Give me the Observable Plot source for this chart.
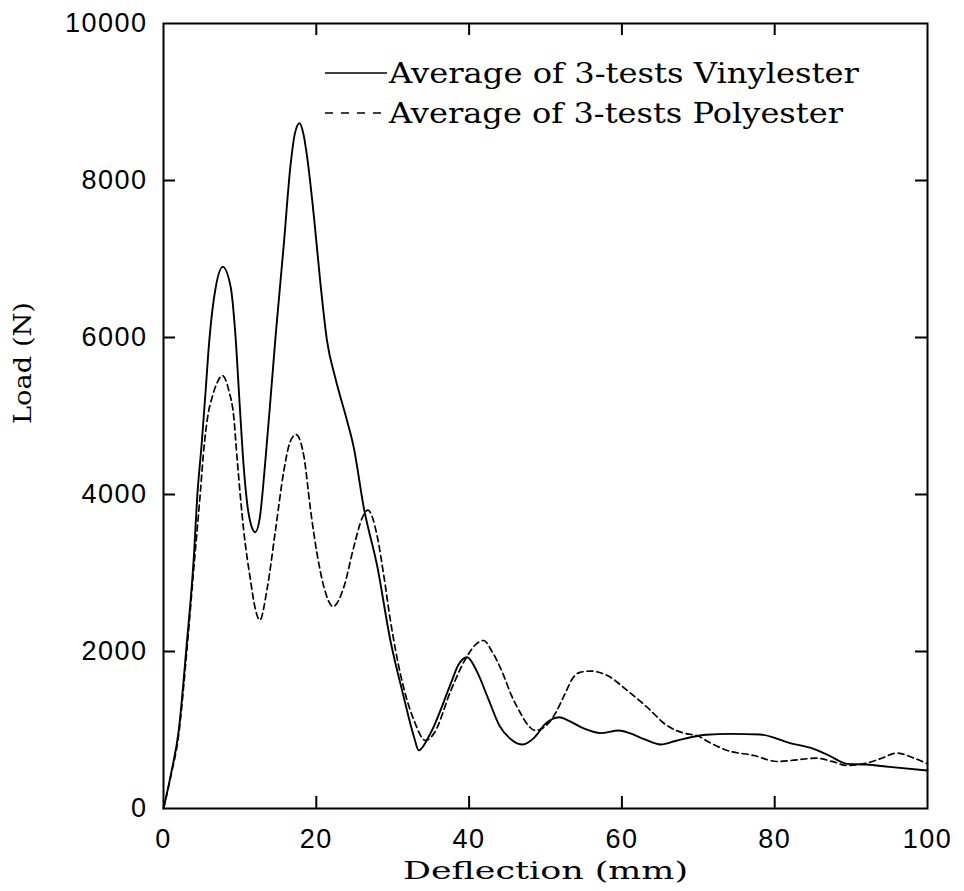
<!DOCTYPE html>
<html><head><meta charset="utf-8">
<script src="https://cdn.jsdelivr.net/npm/d3@7"></script>
<script src="https://cdn.jsdelivr.net/npm/@observablehq/plot@0.6"></script>
<style>
body{margin:0;background:#fff}
#chart{position:relative;width:964px;height:891px}
</style>
</head><body><div id="chart"></div>
<script>
// ---- data ----
const vinylesterDeflection = [0,1,2,3,4,4.4,5.0,5.5,5.9,6.4,6.8,7.75,8.8,9.4,10.0,10.5,11.0,11.5,12.0,12.6,13.3,14.2,14.7,15.75,16.6,17.2,17.8,18.3,18.8,19.7,20.55,21.4,22.5,24.0,24.9,26.2,28.0,29.7,31.45,32.8,33.4,34.9,37.6,38.6,39.75,41,42.5,44,45.5,47,48.5,50,51.8,53,55,57.2,59.6,61,63,65.1,67,69,71,74.2,78.1,80,81.6,85.1,87,89.5,92,95,100];
const vinylesterLoad = [0,450,1000,2050,3250,3950,4650,5300,5850,6350,6620,6900,6640,6050,5100,4350,3850,3600,3520,3700,4390,5450,6050,7190,8170,8600,8730,8600,8300,7530,6680,5960,5480,4950,4600,3840,3075,2140,1418,908,740,950,1590,1830,1927,1750,1400,1050,880,815,900,1080,1163,1120,1020,960,994,960,880,815,860,908,940,951,943,900,845,760,680,569,560,530,484];
const polyesterDeflection = [0,1,2,3,4,4.8,5.3,5.8,6.4,7.0,7.7,8.55,9.2,9.6,10.5,11.4,12.0,12.6,13.6,14.65,15.75,16.5,17.35,18.0,18.4,19.2,20.1,21.0,22.2,23.6,24.9,26.0,26.75,28.0,28.8,29.7,31.0,32.8,34.3,35.4,37.6,39.5,41,41.9,43,44.5,45.5,46.7,47.8,48.7,50,51.1,52.5,53.5,54.5,55.9,58.1,60.7,63.3,65.9,68.5,69.8,71.5,73.8,77.3,80.3,82,85.5,87.5,89.5,92.1,94,96,98,100];
const polyesterLoad = [0,430,950,1950,3100,4000,4600,5000,5250,5420,5516,5325,4985,4500,3540,2900,2550,2400,2820,3540,4300,4650,4764,4650,4475,3840,3245,2820,2573,2820,3330,3700,3800,3456,2990,2395,1716,1120,866,955,1500,1900,2100,2140,2000,1700,1450,1220,1050,994,1050,1180,1450,1650,1735,1750,1694,1503,1290,1057,951,930,840,739,675,599,610,641,600,548,580,640,707,650,569];
const xTicks = [0,20,40,60,80,100];
const yTicks = [0,2000,4000,6000,8000,10000];
const seriesNames = ["Average of 3-tests Vinylester","Average of 3-tests Polyester"];
const xLabel = "Deflection (mm)";
const yLabel = "Load (N)";

// ---- layout ----
const W = 964, H = 891, mL = 163, mR = 37, mT = 23, mB = 83;
const innerW = W - mL - mR, innerH = H - mT - mB;
const tickLen = 12;

const vinyl = vinylesterDeflection.map((d, i) => ({d, load: vinylesterLoad[i]}));
const poly = polyesterDeflection.map((d, i) => ({d, load: polyesterLoad[i]}));
const innerX = xTicks.slice(1, -1), innerY = yTicks.slice(1, -1);

const tickFont = "Liberation Sans, Arial, sans-serif";
const serif = "DejaVu Serif, Liberation Serif, serif";

const chart = Plot.plot({
  width: W, height: H,
  marginLeft: mL, marginRight: mR, marginTop: mT, marginBottom: mB,
  style: {background: "#fff", color: "#000", fontFamily: tickFont},
  x: {domain: [0, 100], label: null},
  y: {domain: [0, 10000], label: null},
  marks: [
    Plot.line(poly, {x: "d", y: "load", stroke: "#000", strokeWidth: 1.7, strokeDasharray: "6,4", curve: "monotone-x"}),
    Plot.line(vinyl, {x: "d", y: "load", stroke: "#000", strokeWidth: 1.9, curve: "monotone-x"}),
    Plot.frame({stroke: "#000", strokeWidth: 2}),
    Plot.tickX(innerX, {x: d => d, insetTop: innerH - tickLen, stroke: "#000", strokeWidth: 2}),
    Plot.tickX(innerX, {x: d => d, insetBottom: innerH - tickLen, stroke: "#000", strokeWidth: 2}),
    Plot.tickY(innerY, {y: d => d, insetRight: innerW - tickLen, stroke: "#000", strokeWidth: 2}),
    Plot.tickY(innerY, {y: d => d, insetLeft: innerW - tickLen, stroke: "#000", strokeWidth: 2}),
    Plot.axisX({ticks: xTicks, anchor: "bottom", tickSize: 0, tickPadding: 20, fontSize: 27, tickFormat: d => String(d), label: null, fontFamily: tickFont}),
    Plot.axisY({ticks: yTicks, anchor: "left", tickSize: 0, tickPadding: 16, fontSize: 27, tickFormat: d => String(d), label: null, fontFamily: tickFont}),
    Plot.text([xLabel], {text: d => d, frameAnchor: "bottom", dy: 70, fontSize: 25, fontFamily: serif, fill: "#000"}),
    Plot.text([yLabel], {text: d => d, frameAnchor: "left", dx: -141, dy: 8, rotate: -90, fontSize: 25, fontFamily: serif, fill: "#000"})
  ]
});
document.getElementById("chart").appendChild(chart);

// fit serif labels to the typewriter widths of the reference
const svg = d3.select(chart);
svg.selectAll("text").filter(function(){ return this.textContent === xLabel; })
  .attr("textLength", 285).attr("lengthAdjust", "spacingAndGlyphs");
svg.selectAll("text").filter(function(){ return this.textContent === yLabel; })
  .attr("textLength", 122).attr("lengthAdjust", "spacingAndGlyphs");
svg.selectAll("[aria-label='x-axis tick label'] text, [aria-label='y-axis tick label'] text")
  .attr("letter-spacing", 1.5);

// legend inside the frame (top right)
const lg = svg.append("g").attr("class", "legend").attr("text-anchor", "start");
seriesNames.forEach((name, i) => {
  const y = 73 + i * 40;
  lg.append("line")
    .attr("x1", 325).attr("x2", 387).attr("y1", y).attr("y2", y)
    .attr("stroke", "#000").attr("stroke-width", 1.6)
    .attr("stroke-dasharray", i ? "8,8" : null);
  lg.append("text")
    .attr("x", 389).attr("y", y + 10)
    .attr("text-anchor", "start")
    .attr("font-family", serif).attr("font-size", 27).attr("fill", "#000")
    .attr("textLength", Math.round(16.2 * name.length)).attr("lengthAdjust", "spacingAndGlyphs")
    .text(name);
});
</script>
</body></html>
